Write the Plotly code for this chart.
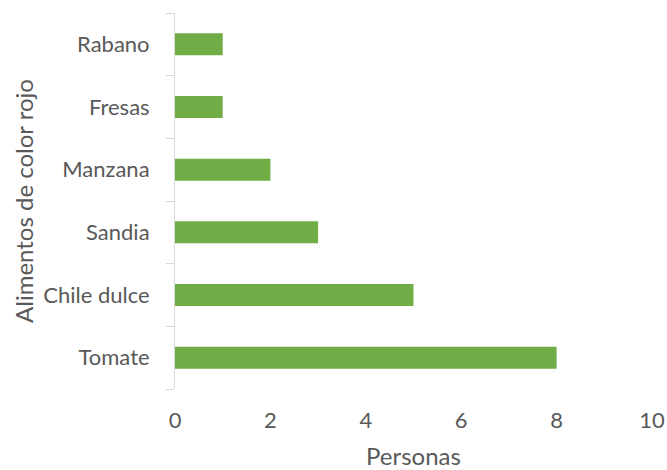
import plotly.graph_objects as go

categories = ["Tomate", "Chile dulce", "Sandia", "Manzana", "Fresas", "Rabano"]
values = [8, 5, 3, 2, 1, 1]
x_ticks = [0, 2, 4, 6, 8, 10]

fig = go.Figure(go.Bar(
    x=values, y=categories, orientation="h",
    marker=dict(color="#70AD47", line=dict(width=0)),
    width=0.35,
))

fig.update_layout(
    width=667, height=470,
    margin=dict(l=175, r=15, t=13, b=81, autoexpand=False),
    paper_bgcolor="white", plot_bgcolor="white",
    font=dict(family="Lato, sans-serif", size=22, color="#595959"),
    showlegend=False,
)
fig.update_xaxes(
    range=[0, 10], tickvals=x_ticks, showgrid=False, zeroline=False,
    showline=False, ticks="outside", ticklen=12, tickcolor="rgba(0,0,0,0)",
    title=dict(text="Personas", font=dict(size=24, color="#595959"), standoff=19),
)
fig.update_yaxes(
    showgrid=False, zeroline=False, showline=True, linecolor="#D9D9D9", linewidth=1,
    ticks="outside", tickson="boundaries", ticklen=8, tickcolor="#D9D9D9",
    ticklabelstandoff=20,
    title=dict(text="Alimentos de color rojo", font=dict(size=24, color="#595959"), standoff=2),
)

fig.write_html(
    "out.html",
    config={"displayModeBar": False},
    post_script="document.body.style.margin='0';document.body.style.overflow='hidden';",
)
